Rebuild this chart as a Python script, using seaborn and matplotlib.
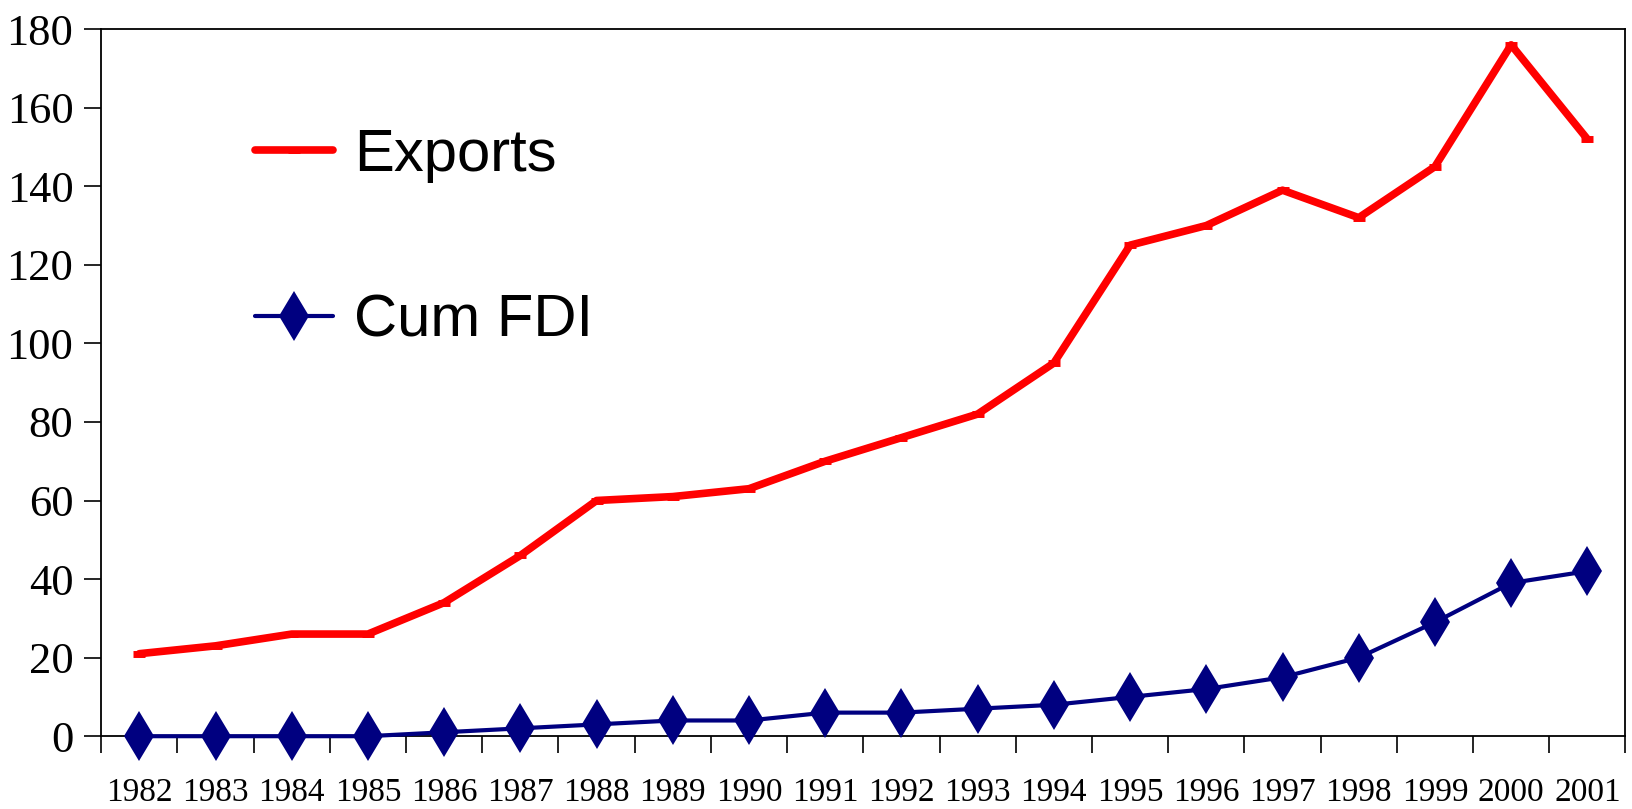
"""Exports and cumulative FDI, 1982-2001."""
import matplotlib

matplotlib.use("Agg")
import matplotlib.pyplot as plt
import matplotlib.ticker as mtick
import numpy as np
import pandas as pd
import seaborn as sns

years = list(range(1982, 2002))
exports = [21, 23, 26, 26, 34, 46, 60, 61, 63, 70, 76, 82, 95, 125, 130, 139, 132, 145, 176, 152]
cum_fdi = [0, 0, 0, 0, 1, 2, 3, 4, 4, 6, 6, 7, 8, 10, 12, 15, 20, 29, 39, 42]
y_ticks = list(range(0, 181, 20))

sns.set_theme(style="white")
plt.rcParams["font.family"] = ["Liberation Serif", "DejaVu Serif"]
plt.rcParams["text.color"] = "black"
plt.rcParams["xtick.color"] = "black"
plt.rcParams["ytick.color"] = "black"

df = pd.DataFrame({"Year": years, "Exports": exports, "Cum FDI": cum_fdi})

fig = plt.figure(figsize=(16.32, 8.09), dpi=100)
ax = fig.add_axes([0.062, 0.090, 0.934, 0.874])

sns.lineplot(data=df, x="Year", y="Exports", ax=ax, color="#ff0000", linewidth=5.5,
             marker="_", markersize=9, markeredgewidth=5, markeredgecolor="#ff0000",
             label="Exports", clip_on=False)
sns.lineplot(data=df, x="Year", y="Cum FDI", ax=ax, color="#000080", linewidth=3,
             marker="d", markersize=25, markeredgewidth=0, markeredgecolor="#000080",
             label="Cum FDI", clip_on=False, zorder=5)

ax.set_xlim(years[0] - 0.5, years[-1] + 0.5)
ax.set_ylim(0, 180)
ax.set_xlabel("")
ax.set_ylabel("")

ax.set_xticks(years)
ax.set_xticklabels([str(y) for y in years])
ax.xaxis.set_minor_locator(mtick.FixedLocator(np.arange(years[0] - 0.5, years[-1] + 1, 1)))
ax.tick_params(axis="x", which="major", length=0, pad=30, labelsize=24)
ax.tick_params(axis="x", which="minor", length=12, width=1.2, color="black", bottom=True)
ax.set_yticks(y_ticks)
ax.tick_params(axis="y", which="major", length=12, width=1.2, color="black", left=True,
               labelsize=32, pad=8)

for side in ["left", "bottom", "top", "right"]:
    ax.spines[side].set_visible(True)
    ax.spines[side].set_color("black")
    ax.spines[side].set_linewidth(1.3)

ax.legend(loc="upper left", bbox_to_anchor=(0.101, 0.86), frameon=False,
          prop={"family": ["Liberation Sans"], "size": 43},
          handlelength=1.3, handletextpad=0.35, labelspacing=1.85,
          borderpad=0, borderaxespad=0)

fig.savefig("out.png", dpi=100, facecolor="white")
